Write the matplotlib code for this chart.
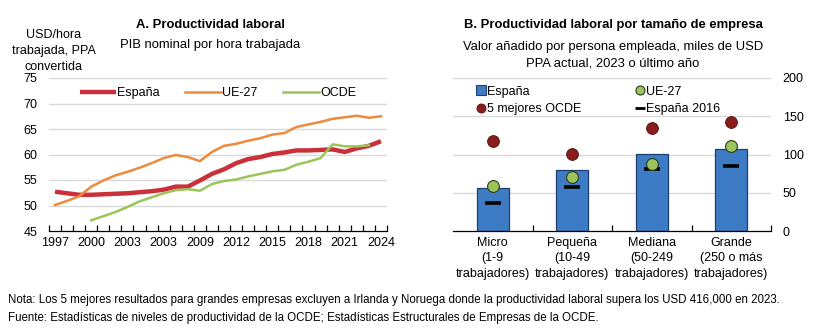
import matplotlib
matplotlib.use("Agg")
import matplotlib.pyplot as plt
from matplotlib.lines import Line2D
from matplotlib.ticker import FixedLocator

plt.rcParams['font.family'] = ['Liberation Sans', 'DejaVu Sans']

# Panel A: GDP per hour worked, USD PPP
years = list(range(1997, 2025))
espana = [52.7, 52.4, 52.1, 52.1, 52.2, 52.3, 52.4, 52.6, 52.8, 53.1, 53.7, 53.7,
          54.9, 56.2, 57.1, 58.3, 59.1, 59.5, 60.1, 60.4, 60.8, 60.8, 60.9, 61.0,
          60.5, 61.2, 61.7, 62.6]
ue27 = [50.1, 50.9, 51.8, 53.7, 54.9, 55.9, 56.6, 57.4, 58.3, 59.3, 59.9, 59.5,
        58.7, 60.5, 61.7, 62.1, 62.7, 63.2, 63.9, 64.2, 65.4, 65.9, 66.4, 67.0,
        67.3, 67.6, 67.2, 67.5]
ocde_years = list(range(2000, 2024))
ocde = [47.1, 47.9, 48.7, 49.7, 50.8, 51.6, 52.4, 53.0, 53.2, 52.9, 54.2, 54.8,
        55.1, 55.7, 56.2, 56.7, 57.0, 58.0, 58.6, 59.3, 62.0, 61.6, 61.6, 61.8]
xtick_years = [1997, 2000, 2003, 2006, 2009, 2012, 2015, 2018, 2021, 2024]
xtick_labels = ['1997', '2000', '2003', '2003', '2009', '2012', '2015', '2018', '2021', '2024']

# Panel B: value added per person employed by firm size
sizes = ['Micro\n(1-9\ntrabajadores)', 'Pequeña\n(10-49\ntrabajadores)',
         'Mediana\n(50-249\ntrabajadores)', 'Grande\n(250 o más\ntrabajadores)']
b_espana = [56, 80, 100.5, 107]
b_ue27 = [59, 70.5, 87, 111]
b_top5 = [118, 101, 134, 143]
b_espana2016 = [37, 57, 81.5, 84.5]

RED = '#C9303A'
ORANGE = '#EE8A3E'
GREEN = '#9BC55B'
BLUE = '#3D7CC4'
NAVY = '#1E3F6E'
DARKRED = '#8B1C1C'
GRID = '#D9D9D9'
FS = 9.0
TFS = 9.4

fig = plt.figure(figsize=(8.2, 3.3), dpi=100)

# ---- panel A ----
ax = fig.add_axes([49 / 820, 1 - 231 / 330, 338 / 820, 153 / 330])
ax.plot(years, espana, color=RED, lw=3.2, label='España', solid_capstyle='butt')
ax.plot(years, ue27, color=ORANGE, lw=1.8, label='UE-27')
ax.plot(ocde_years, ocde, color=GREEN, lw=1.8, label='OCDE')
ax.set_xlim(1996.5, 2024.5)
ax.set_ylim(45, 75)
ax.set_yticks(range(45, 76, 5))
ax.set_xticks(xtick_years)
ax.set_xticklabels(xtick_labels)
ax.xaxis.set_minor_locator(FixedLocator([y + 0.5 for y in range(1996, 2025)]))
ax.tick_params(axis='x', which='major', length=0, pad=4, labelsize=FS)
ax.tick_params(axis='x', which='minor', length=4, direction='in', width=0.9)
ax.tick_params(axis='y', length=0, labelsize=FS, pad=8.5)
for y in range(50, 76, 5):
    ax.axhline(y, color=GRID, lw=1, zorder=0)
for s in ['top', 'right', 'left']:
    ax.spines[s].set_visible(False)
ax.spines['bottom'].set_linewidth(0.9)
ax.legend(loc='upper center', bbox_to_anchor=(0.5, 0.99), ncol=3, frameon=False,
          fontsize=FS, handlelength=2.9, handletextpad=0.1, columnspacing=2.0,
          borderaxespad=0.2)

fig.text(210 / 820, 1 - 25 / 330, 'A. Productividad laboral', ha='center', va='center',
         fontsize=TFS, fontweight='bold')
fig.text(210 / 820, 1 - 45 / 330, 'PIB nominal por hora trabajada', ha='center', va='center',
         fontsize=TFS)
fig.text(54 / 820, 1 - 51 / 330, 'USD/hora\ntrabajada, PPA\nconvertida', ha='center',
         va='center', fontsize=FS, linespacing=1.45)

# ---- panel B ----
bx = fig.add_axes([453 / 820, 1 - 231 / 330, 318 / 820, 153 / 330])
pos = list(range(len(sizes)))
bx.bar(pos, b_espana, width=0.4, color=BLUE, edgecolor=NAVY, lw=0.9, zorder=2)
bx.plot(pos, b_espana2016, ls='none', marker='_', ms=11, mew=2.6, color='black', zorder=3)
bx.plot(pos, b_ue27, ls='none', marker='o', ms=8.5, mfc=GREEN, mec='#2E3B1E', mew=0.8, zorder=4)
bx.plot(pos, b_top5, ls='none', marker='o', ms=8.5, mfc=DARKRED, mec='#4A0E0E', mew=0.6, zorder=4)
bx.set_xlim(-0.5, 3.5)
bx.set_ylim(0, 200)
bx.set_xticks(pos)
bx.set_xticklabels(sizes, fontsize=FS, linespacing=1.42)
bx.xaxis.set_minor_locator(FixedLocator([0.5, 1.5, 2.5, 3.5]))
bx.tick_params(axis='x', which='major', length=0, pad=4)
bx.tick_params(axis='x', which='minor', length=4, direction='in', width=0.9)
bx.yaxis.tick_right()
bx.set_yticks(range(0, 201, 50))
bx.tick_params(axis='y', length=0, labelsize=FS, pad=8.5)
for y in range(50, 201, 50):
    bx.axhline(y, color=GRID, lw=1, zorder=0)
for s in ['top', 'right', 'left']:
    bx.spines[s].set_visible(False)
bx.spines['bottom'].set_linewidth(0.9)

handles = [
    Line2D([], [], ls='none', marker='s', ms=6.5, mfc=BLUE, mec=NAVY, mew=0.8),
    Line2D([], [], ls='none', marker='o', ms=6.5, mfc=DARKRED, mec='#4A0E0E', mew=0.6),
    Line2D([], [], ls='none', marker='o', ms=6.5, mfc=GREEN, mec='#2E3B1E', mew=0.8),
    Line2D([], [], ls='none', marker='_', ms=7, mew=2, color='black'),
]
labels = ['España', '5 mejores OCDE', 'UE-27', 'España 2016']
bx.legend(handles, labels, loc='upper left', bbox_to_anchor=(0.055, 0.99), ncol=2,
          frameon=False, fontsize=FS, handlelength=0.7, handletextpad=0.15,
          columnspacing=4.3, labelspacing=0.45, borderaxespad=0.1)

fig.text(613 / 820, 1 - 25 / 330, 'B. Productividad laboral por tamaño de empresa',
         ha='center', va='center', fontsize=TFS, fontweight='bold')
fig.text(613 / 820, 1 - 55 / 330,
         'Valor añadido por persona empleada, miles de USD\nPPA actual, 2023 o último año',
         ha='center', va='center', fontsize=TFS, linespacing=1.45)

# ---- notes ----
fig.text(8 / 820, 1 - 300 / 330,
         'Nota: Los 5 mejores resultados para grandes empresas excluyen a Irlanda y Noruega '
         'donde la productividad laboral supera los USD 416,000 en 2023.',
         ha='left', va='center', fontsize=8.3)
fig.text(8 / 820, 1 - 318 / 330,
         'Fuente: Estadísticas de niveles de productividad de la OCDE; Estadísticas '
         'Estructurales de Empresas de la OCDE.',
         ha='left', va='center', fontsize=8.3)

fig.savefig('out.png', dpi=100)
